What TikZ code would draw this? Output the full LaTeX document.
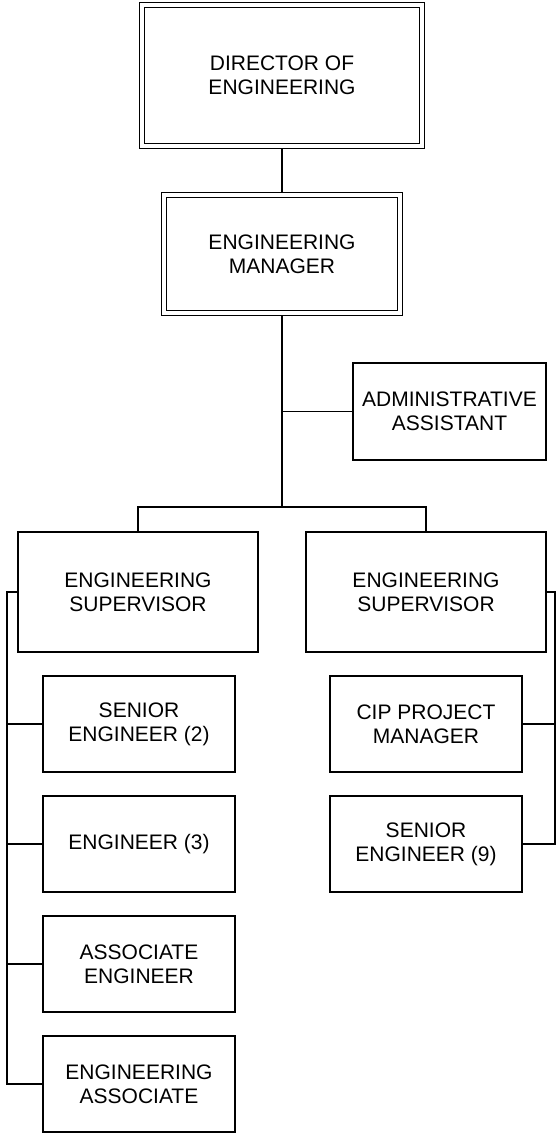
\documentclass[tikz,border=0pt]{standalone}
\usepackage{fontspec}
\setmainfont{Liberation Sans}
\usetikzlibrary{backgrounds}
\begin{document}
\begin{tikzpicture}[x=1pt,y=-1pt,
  box/.style={draw, line width=1.6pt, fill=white, align=center, inner sep=0pt,
    font=\fontsize{21}{24}\selectfont},
  dbox/.style={box, line width=1.3pt, double=white, double distance=3.1pt},
  child/.style={box, minimum width=192pt, minimum height=96pt},
  conn/.style={line width=1.6pt, line join=miter}]
\useasboundingbox (0,0) rectangle (556,1134);
\node[dbox, minimum width=280pt, minimum height=141pt] (dir) at (282,75.5) {DIRECTOR OF\\ENGINEERING};
\node[dbox, minimum width=236pt, minimum height=118pt] (mgr) at (282,254) {ENGINEERING\\MANAGER};
\node[box, minimum width=193pt, minimum height=97pt] (adm) at (449.5,411.5) {ADMINISTRATIVE\\ASSISTANT};
\node[box, minimum width=240pt, minimum height=120pt] (supL) at (138,592) {ENGINEERING\\SUPERVISOR};
\node[box, minimum width=240pt, minimum height=120pt] (supR) at (426,592) {ENGINEERING\\SUPERVISOR};
\node[child] (c1) at (139,724) {SENIOR\\ENGINEER (2)};
\node[child] (c2) at (139,844) {ENGINEER (3)};
\node[child] (c3) at (139,964) {ASSOCIATE\\ENGINEER};
\node[child] (c4) at (139,1084) {ENGINEERING\\ASSOCIATE};
\node[child] (r1) at (426,724) {CIP PROJECT\\MANAGER};
\node[child] (r2) at (426,844) {SENIOR\\ENGINEER (9)};
\coordinate (bar) at (282,507);
\coordinate (junc) at (282,411.5);
\coordinate (lb) at (7,0);
\coordinate (rb) at (555,0);
\begin{scope}[on background layer]
\draw[conn] (dir.south) -- (mgr.north);
\draw[conn] (mgr.south) -- (bar);
\draw[conn] (junc) -- (adm.west);
\draw[conn] (supL.north) |- (bar) -| (supR.north);
\draw[conn] (supL.west) -| (lb |- c4.west) -- (c4.west);
\foreach \n in {c1,c2,c3} \draw[conn] (\n.west) -- (lb |- \n.west);
\draw[conn] (supR.east) -| (rb |- r2.east) -- (r2.east);
\draw[conn] (r1.east) -- (rb |- r1.east);
\end{scope}
\end{tikzpicture}
\end{document}
